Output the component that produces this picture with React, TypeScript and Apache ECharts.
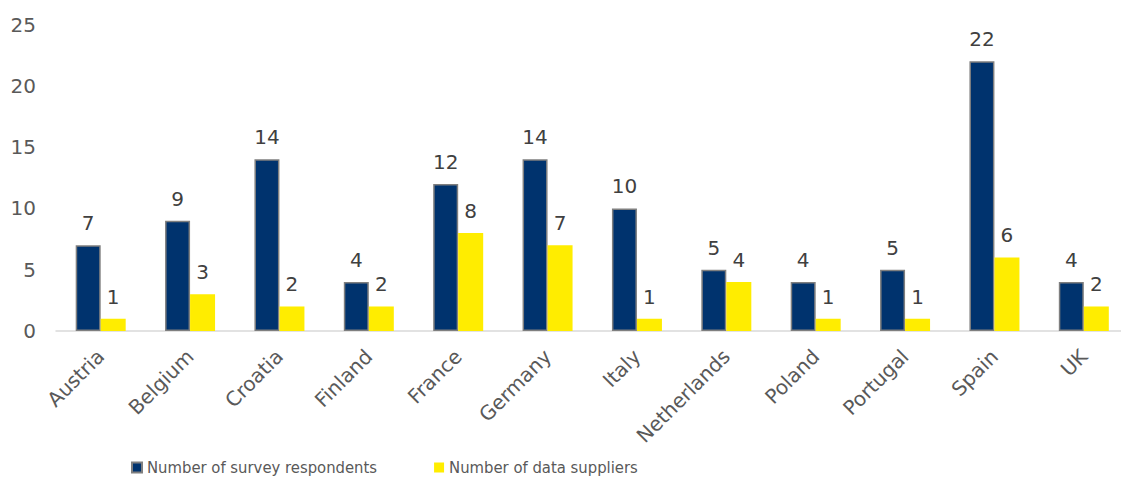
import React, { useEffect, useRef } from "react";
import * as echarts from "echarts";

const categories = ["Austria", "Belgium", "Croatia", "Finland", "France", "Germany", "Italy", "Netherlands", "Poland", "Portugal", "Spain", "UK"];
const respondents = [7, 9, 14, 4, 12, 14, 10, 5, 4, 5, 22, 4];
const suppliers = [1, 3, 2, 2, 8, 7, 1, 4, 1, 1, 6, 2];
const seriesNames = ["Number of survey respondents", "Number of data suppliers"];

const FONT = "'DejaVu Sans', Verdana, sans-serif";

export default function App() {
  const ref = useRef<HTMLDivElement>(null);
  useEffect(() => {
    if (!ref.current) return;
    const chart = echarts.init(ref.current, undefined, { renderer: "svg" });
    const labelCfg = {
      show: true,
      position: "top",
      distance: 12,
      color: "#404040",
      fontSize: 20,
      fontFamily: FONT,
    };
    chart.setOption({
      animation: false,
      backgroundColor: "#ffffff",
      grid: { left: 56, top: 24.5, width: 1072.5, bottom: 147, containLabel: false },
      legend: {
        left: 131,
        top: 459,
        padding: 0,
        itemWidth: 10,
        itemHeight: 10,
        itemGap: 57,
        icon: "rect",
        textStyle: { color: "#595959", fontSize: 16.5, fontFamily: "'DejaVu Sans Condensed', 'DejaVu Sans', sans-serif" },
        data: seriesNames,
      },
      xAxis: {
        type: "category",
        data: categories,
        axisLine: { show: true, lineStyle: { color: "#d9d9d9", width: 1.5 } },
        axisTick: { show: false },
        axisLabel: { rotate: 45, margin: 22, color: "#595959", fontSize: 20, fontFamily: FONT, interval: 0 },
      },
      yAxis: {
        type: "value",
        min: 0,
        max: 25,
        interval: 5,
        axisLine: { show: false },
        axisTick: { show: false },
        splitLine: { show: false },
        axisLabel: { margin: 20, color: "#595959", fontSize: 20, fontFamily: FONT },
      },
      series: [
        {
          name: seriesNames[0],
          type: "bar",
          data: respondents,
          barWidth: 25,
          barGap: "0%",
          itemStyle: { color: "#00336E", borderColor: "#7f7f7f", borderWidth: 1.5 },
          label: labelCfg,
        },
        {
          name: seriesNames[1],
          type: "bar",
          data: suppliers,
          barWidth: 25,
          barGap: "0%",
          itemStyle: { color: "#FFED00" },
          label: labelCfg,
        },
      ],
    });
    return () => chart.dispose();
  }, []);
  return (
    <div style={{ position: "fixed", left: 0, top: 0, width: 1121, height: 478, overflow: "hidden", background: "#fff" }}>
      <div ref={ref} style={{ width: 1140, height: 478 }} />
    </div>
  );
}
